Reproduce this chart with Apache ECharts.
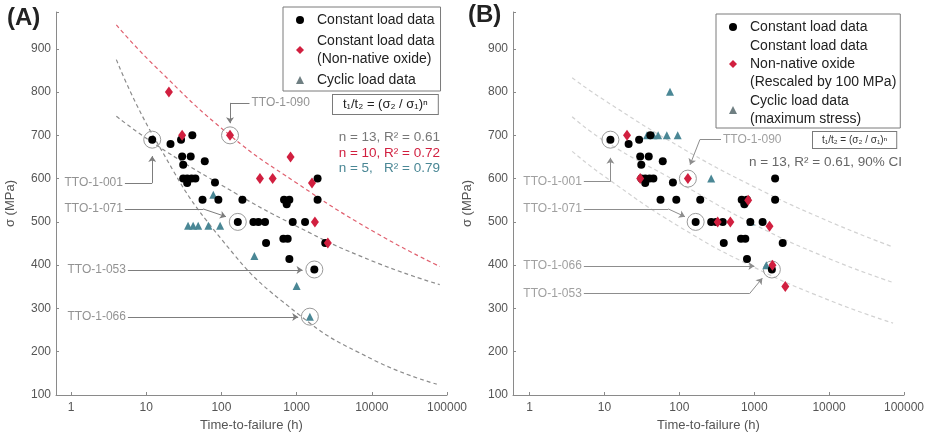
<!DOCTYPE html>
<html>
<head>
<meta charset="utf-8">
<script src="https://cdn.jsdelivr.net/npm/echarts@6/dist/echarts.min.js"></script>
<style>
html, body { margin: 0; background: #fff; }
#chart { width: 927px; height: 437px; }
</style>
</head>
<body>
<div id="chart"></div>
<script>
// ---- data: [time-to-failure (h), stress (MPa)] ----
const constantLoad = [
    [12, 690], [21, 680], [29, 690], [41, 700], [30, 651], [39, 651], [31, 632], [60, 640],
    [31, 600], [35, 600], [40, 600], [45, 600], [35, 590], [82, 591],
    [56, 551], [91, 551], [190, 551], [680, 551], [800, 551], [738, 541], [1900, 551], [1900, 600],
    [165, 500], [266, 500], [310, 500], [380, 500], [887, 500], [1294, 500],
    [392, 451], [666, 461], [760, 461], [2400, 451], [800, 414], [1720, 390],
];
const oxideA = [
    [20, 800], [30, 700], [130, 700], [830, 650], [325, 600], [480, 600], [1600, 590], [1750, 500], [2600, 451],
];
const oxideB = [
    [20, 700], [30, 600], [130, 600], [830, 550], [325, 500], [480, 500], [1600, 490], [1750, 400], [2600, 351],
];
const cyclicA = [
    [36, 491], [42, 491], [49, 491], [67, 491], [96, 491], [78, 563], [274, 421], [1000, 352], [1500, 281],
];
const cyclicB = [
    [37, 700], [45, 700], [52, 700], [68, 700], [95, 700], [75, 801], [266, 600], [900, 501], [1450, 400],
];

// fitted curves, read at a few points along each dashed line
const fitConstA = [[4, 744], [13, 680], [100, 585], [1000, 490], [10000, 410], [80000, 355]];
const fitOxideA = [[4, 955], [13, 860], [130, 700], [1000, 590], [10000, 480], [80000, 397]];
const fitCyclicA = [[4, 875], [13, 692], [100, 460], [1000, 290], [10000, 183], [73000, 125]];
const ciUpperB = [[3.7, 833], [10, 781], [100, 674], [1000, 581], [10000, 501], [71500, 442]];
const fitB = [[3.7, 743], [10, 687], [100, 590], [1000, 494], [10000, 415], [71500, 360]];
const ciLowerB = [[3.7, 663], [10, 605], [100, 489], [1000, 395], [10000, 319], [71500, 266]];

// highlighted specimens
const ringsA = [[12, 690], [165, 500], [1720, 390], [1500, 281], [130, 700]];
const ringsB = [[12, 690], [165, 500], [1720, 390], [130, 600]];

const xTicks = [1, 10, 100, 1000, 10000, 100000];
const yTicks = [100, 200, 300, 400, 500, 600, 700, 800, 900];

// annotation call-outs (data space)
const tagsA = [
    { name: 'TTO-1-001', at: [5.2, 590], side: 'left', plain: [[5.2, 590], [12, 590]], arrow: [[12, 590], [12, 652]] },
    { name: 'TTO-1-071', at: [5.2, 530], side: 'left', plain: [[5.2, 530], [57, 530]], arrow: [[57, 530], [115, 512]] },
    { name: 'TTO-1-053', at: [5.7, 389], side: 'left', plain: null, arrow: [[5.7, 389], [1200, 389]] },
    { name: 'TTO-1-066', at: [5.7, 280], side: 'left', plain: null, arrow: [[5.7, 280], [1050, 280]] },
    { name: 'TTO-1-090', at: [236, 775], side: 'right', plain: [[236, 775], [130, 775]], arrow: [[130, 775], [130, 728]] },
];
const tagsB = [
    { name: 'TTO-1-001', at: [5.3, 593], side: 'left', plain: [[5.3, 593], [12, 593]], arrow: [[12, 593], [12, 648]] },
    { name: 'TTO-1-071', at: [5.3, 530], side: 'left', plain: [[5.3, 530], [71, 530]], arrow: [[71, 530], [119, 512]] },
    { name: 'TTO-1-066', at: [5.3, 398], side: 'left', plain: null, arrow: [[5.3, 398], [1006, 398]] },
    { name: 'TTO-1-053', at: [5.3, 334], side: 'left', plain: [[5.3, 334], [865, 334]], arrow: [[865, 334], [1283, 370]] },
    { name: 'TTO-1-090', at: [360, 690], side: 'right', plain: [[360, 690], [188, 690]], arrow: [[188, 690], [139, 632]] },
];

const FONT = 'Liberation Sans, Arial, sans-serif';
const BLACK = '#000';
const RED = '#d11f3f';
const TEAL = '#4a8795';

const isDecade = (v) => xTicks.some(t => Math.abs(t - v) / t < 1e-6);

const makeX = (gridIndex, min) => ({
    type: 'log',
    logBase: 10,
    gridIndex,
    min,
    max: 100000,
    name: 'Time-to-failure (h)',
    nameLocation: 'middle',
    nameGap: 24,
    nameTextStyle: { color: '#555', fontSize: 13, fontFamily: FONT },
    axisLine: { lineStyle: { color: '#8a8a8a' } },
    axisTick: { inside: true, length: 3, lineStyle: { color: '#8a8a8a' } },
    axisLabel: {
        color: '#555',
        fontSize: 12,
        fontFamily: FONT,
        margin: 7,
        formatter: v => (isDecade(v) ? String(Math.round(v)) : ''),
    },
    splitLine: { show: false },
    minorTick: { show: false },
});

const makeY = (gridIndex) => ({
    type: 'value',
    gridIndex,
    min: 100,
    max: 985,
    interval: 100,
    name: 'σ (MPa)',
    nameLocation: 'middle',
    nameGap: 39,
    nameTextStyle: { color: '#555', fontSize: 13, fontFamily: FONT },
    axisLine: { show: true, lineStyle: { color: '#8a8a8a' } },
    axisTick: { show: true, inside: true, length: 3, lineStyle: { color: '#8a8a8a' } },
    axisLabel: {
        color: '#555',
        fontSize: 12,
        fontFamily: FONT,
        margin: 5,
        formatter: v => (yTicks.includes(v) ? String(v) : ''),
    },
    splitLine: { show: false },
});

const fitLine = (name, data, idx, color) => ({
    name,
    type: 'line',
    xAxisIndex: idx,
    yAxisIndex: idx,
    data,
    smooth: true,
    showSymbol: false,
    silent: true,
    z: 1,
    lineStyle: { color, width: 1.2, type: [4, 3] },
});

const panelSeries = (idx, opts) => {
    const list = [];
    opts.fits.forEach(([n, d, c]) => list.push(fitLine(n, d, idx, c)));
    list.push({
        name: 'ring' + idx,
        type: 'scatter',
        xAxisIndex: idx,
        yAxisIndex: idx,
        data: opts.rings,
        symbol: 'circle',
        symbolSize: 17,
        silent: true,
        z: 2,
        itemStyle: { color: 'rgba(255,255,255,0)', borderColor: '#9a9a9a', borderWidth: 1, opacity: 1 },
    });
    list.push({
        name: opts.cyclicName,
        type: 'scatter',
        xAxisIndex: idx,
        yAxisIndex: idx,
        data: opts.cyclic,
        symbol: 'triangle',
        symbolSize: 8,
        z: 3,
        itemStyle: { color: TEAL, opacity: 1 },
    });
    list.push({
        name: 'Constant load data',
        type: 'scatter',
        xAxisIndex: idx,
        yAxisIndex: idx,
        data: constantLoad,
        symbol: 'circle',
        symbolSize: 8,
        z: 4,
        itemStyle: { color: BLACK, opacity: 1 },
    });
    list.push({
        name: opts.oxideName,
        type: 'scatter',
        xAxisIndex: idx,
        yAxisIndex: idx,
        data: opts.oxide,
        symbol: 'diamond',
        symbolSize: [8, 11],
        z: 5,
        itemStyle: { color: RED, opacity: 1 },
    });
    list.push({
        name: 'callout' + idx,
        type: 'lines',
        coordinateSystem: 'cartesian2d',
        xAxisIndex: idx,
        yAxisIndex: idx,
        silent: true,
        z: 3,
        symbol: ['none', 'none'],
        lineStyle: { color: opts.calloutColor, width: 1, opacity: 1, type: 'solid' },
        data: opts.tags.filter(t => t.plain).map(t => ({ coords: t.plain })),
    });
    list.push({
        name: 'arrow' + idx,
        type: 'lines',
        coordinateSystem: 'cartesian2d',
        xAxisIndex: idx,
        yAxisIndex: idx,
        silent: true,
        z: 3,
        symbol: ['none', 'arrow'],
        symbolSize: 6,
        lineStyle: { color: opts.calloutColor, width: 1, opacity: 1, type: 'solid' },
        data: opts.tags.map(t => ({ coords: t.arrow })),
    });
    list.push({
        name: 'tag' + idx,
        type: 'scatter',
        xAxisIndex: idx,
        yAxisIndex: idx,
        silent: true,
        symbolSize: 0,
        z: 6,
        data: opts.tags.map(t => ({
            name: t.name,
            value: t.at,
            label: { position: t.side },
        })),
        label: {
            show: true,
            formatter: '{b}',
            distance: 2,
            color: opts.tagColor,
            fontSize: 12,
            fontFamily: FONT,
        },
    });
    return list;
};

const legendBase = {
    orient: 'vertical',
    itemWidth: 8,
    itemHeight: 8,
    borderColor: '#7a7a7a',
    borderWidth: 1,
    backgroundColor: '#fff',
    selectedMode: false,
    textStyle: { fontSize: 14, color: '#222', lineHeight: 18, fontFamily: FONT, padding: [0, 0, 0, 8] },
};

const chart = echarts.init(document.getElementById('chart'));
chart.setOption({
    animation: false,
    backgroundColor: '#fff',
    textStyle: { fontFamily: FONT },
    grid: [
        { left: 56, top: 12, width: 391, height: 383 },
        { left: 513, top: 12, width: 395, height: 383 },
    ],
    xAxis: [makeX(0, 0.63), makeX(1, 0.6)],
    yAxis: [makeY(0), makeY(1)],
    legend: [
        Object.assign({}, legendBase, {
            left: 283,
            top: 7,
            itemGap: 3,
            padding: [4, 6, 2, 13],
            data: [
                { name: 'Constant load data' },
                { name: 'Constant load data\n(Non-native oxide)' },
                { name: 'Cyclic load data', itemStyle: { color: '#6f7f82' } },
            ],
        }),
        Object.assign({}, legendBase, {
            left: 716,
            top: 14,
            itemGap: 1,
            padding: [4, 4, 0, 13],
            data: [
                { name: 'Constant load data' },
                { name: 'Constant load data\nNon-native oxide\n(Rescaled by 100 MPa)' },
                { name: 'Cyclic load data\n(maximum stress)', itemStyle: { color: '#6f7f82' } },
            ],
        }),
    ],
    graphic: [
        { type: 'text', x: 7, y: 6, style: { text: '(A)', font: 'bold 24px ' + FONT, fill: '#222' } },
        { type: 'text', x: 468, y: 3, style: { text: '(B)', font: 'bold 24px ' + FONT, fill: '#222' } },
        {
            type: 'text', x: 333, y: 95,
            style: {
                text: 't₁/t₂ = (σ₂ / σ₁)ⁿ', font: '13px ' + FONT, fill: '#222',
                backgroundColor: '#fff', borderColor: '#7a7a7a', borderWidth: 1, padding: [3, 10],
            },
        },
        { type: 'text', x: 440, y: 137, style: { text: 'n = 13, R² = 0.61', font: '13.5px ' + FONT, fill: '#777', align: 'right', verticalAlign: 'middle' } },
        { type: 'text', x: 440, y: 153, style: { text: 'n = 10, R² = 0.72', font: '13.5px ' + FONT, fill: RED, align: 'right', verticalAlign: 'middle' } },
        { type: 'text', x: 440, y: 168, style: { text: 'n = 5,   R² = 0.79', font: '13.5px ' + FONT, fill: TEAL, align: 'right', verticalAlign: 'middle' } },
        {
            type: 'text', x: 813, y: 132,
            style: {
                text: 't₁/t₂ = (σ₂ / σ₁)ⁿ', font: '10px ' + FONT, fill: '#333',
                backgroundColor: '#fff', borderColor: '#7a7a7a', borderWidth: 1, padding: [3, 9],
            },
        },
        { type: 'text', x: 902, y: 162, style: { text: 'n = 13, R² = 0.61, 90% CI', font: '13.5px ' + FONT, fill: '#666', align: 'right', verticalAlign: 'middle' } },
    ],
    series: [
        ...panelSeries(0, {
            fits: [['fitA', fitConstA, '#8c8c8c'], ['fitOxA', fitOxideA, '#e0606f'], ['fitCyA', fitCyclicA, '#8c8c8c']],
            rings: ringsA,
            cyclic: cyclicA,
            cyclicName: 'Cyclic load data',
            oxide: oxideA,
            oxideName: 'Constant load data\n(Non-native oxide)',
            tags: tagsA,
            calloutColor: '#7d7d7d',
            tagColor: '#777',
        }),
        ...panelSeries(1, {
            fits: [['ciUpB', ciUpperB, '#d2d2d2'], ['fitB', fitB, '#d2d2d2'], ['ciLoB', ciLowerB, '#d2d2d2']],
            rings: ringsB,
            cyclic: cyclicB,
            cyclicName: 'Cyclic load data\n(maximum stress)',
            oxide: oxideB,
            oxideName: 'Constant load data\nNon-native oxide\n(Rescaled by 100 MPa)',
            tags: tagsB,
            calloutColor: '#8d8d8d',
            tagColor: '#888',
        }),
    ],
});
window.addEventListener('resize', () => {
    chart.resize();
});
</script>
</body>
</html>
